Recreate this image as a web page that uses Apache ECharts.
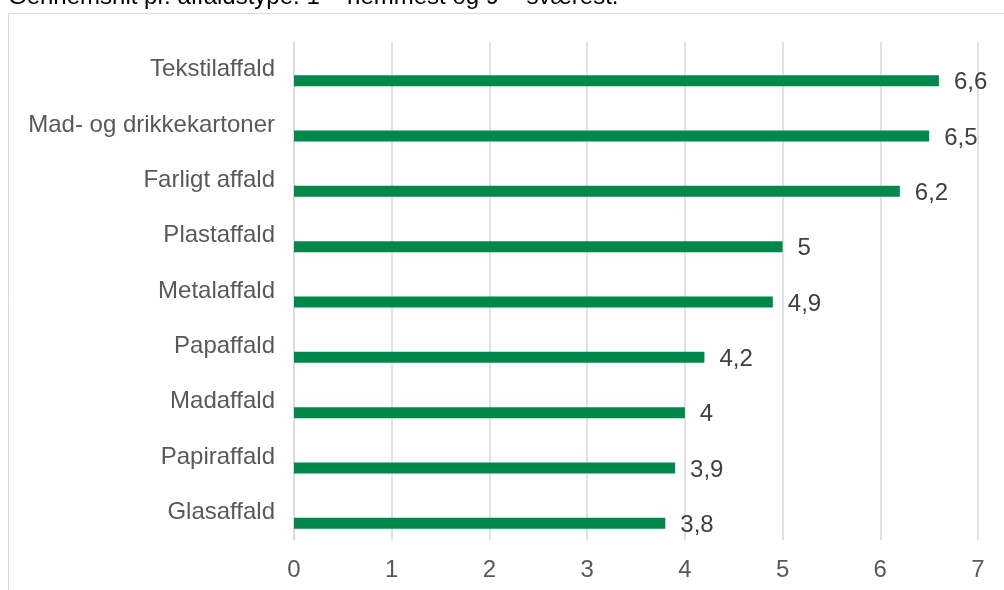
<!DOCTYPE html>
<html><head><meta charset="utf-8">
<script src="https://cdn.jsdelivr.net/npm/echarts@6/dist/echarts.min.js"></script>
<style>html,body{margin:0;padding:0;background:#fff}#c{width:1004px;height:590px}</style>
</head><body><div id="c"></div>
<script>
const titleText = 'Gennemsnit pr. affaldstype. 1 = nemmest og 9 = sværest.';
const categories = ['Tekstilaffald','Mad- og drikkekartoner','Farligt affald','Plastaffald','Metalaffald','Papaffald','Madaffald','Papiraffald','Glasaffald'];
const values = [6.6, 6.5, 6.2, 5, 4.9, 4.2, 4, 3.9, 3.8];
const xTicks = {min: 0, max: 7, interval: 1};
const fmt = v => String(v).replace('.', ',');
const chart = echarts.init(document.getElementById('c'), null, {renderer: 'canvas'});
chart.setOption({
  animation: false,
  backgroundColor: '#fff',
  textStyle: {fontFamily: 'Liberation Sans, Arial, sans-serif'},
  graphic: [
    {type: 'rect', shape: {x: 8.5, y: 13.5, width: 1010, height: 600}, style: {fill: 'none', stroke: '#d9d9d9', lineWidth: 1}, silent: true, z: -1},
    {type: 'text', left: 8, top: -15, style: {text: titleText, font: '24px "Liberation Sans", Arial, sans-serif', fill: '#000'}}
  ],
  grid: {left: 294, right: 26, top: 42, bottom: 50, containLabel: false},
  xAxis: {
    type: 'value', min: xTicks.min, max: xTicks.max, interval: xTicks.interval,
    axisLine: {show: false}, axisTick: {show: false},
    axisLabel: {color: '#595959', fontSize: 24, margin: 18, formatter: v => fmt(v)},
    splitLine: {lineStyle: {color: '#d9d9d9', width: 1.5}}
  },
  yAxis: {
    type: 'category', data: categories, inverse: true,
    axisLine: {show: true, lineStyle: {color: '#d9d9d9', width: 1.5}},
    axisTick: {show: false},
    axisLabel: {color: '#595959', fontSize: 24, margin: 19, padding: [2, 0, 0, 0]}
  },
  series: [
    {type: 'bar', data: categories.map(() => null), barWidth: 11, barGap: '100%', silent: true},
    {type: 'bar', data: values, barWidth: 11, barGap: '100%',
     itemStyle: {color: '#00884b'},
     label: {show: true, position: 'right', distance: 15, offset: [0, 2], color: '#404040', fontSize: 24, formatter: p => fmt(p.value)}}
  ]
});
</script></body></html>
